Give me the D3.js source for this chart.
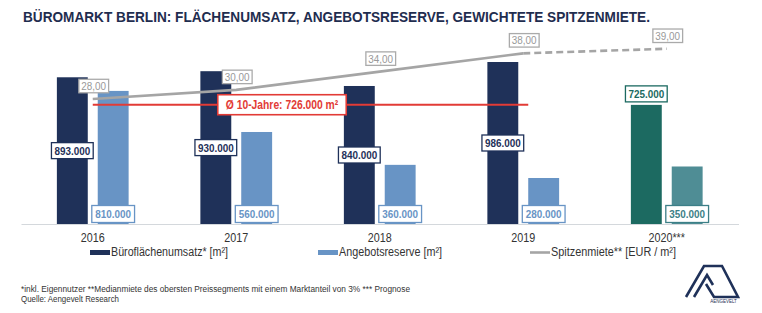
<!DOCTYPE html>
<html><head><meta charset="utf-8">
<script src="https://cdn.jsdelivr.net/npm/d3@7"></script>
<style>
html,body{margin:0;padding:0;background:#fff;}
svg{display:block;font-family:"Liberation Sans",Arial,sans-serif;}
</style></head>
<body>
<svg id="c" width="762" height="313"></svg>
<script>
const years = ["2016","2017","2018","2019","2020***"];
const umsatz = [893000, 930000, 840000, 986000, 725000];
const reserve = [810000, 560000, 360000, 280000, 350000];
const miete = [28, 30, 34, 38, 39];
const avgValue = 726000;
const avgLabel = "Ø 10-Jahre: 726.000 m²";
const titleText = "BÜROMARKT BERLIN: FLÄCHENUMSATZ, ANGEBOTSRESERVE, GEWICHTETE SPITZENMIETE.";
const legendLabels = ["Büroflächenumsatz* [m²]", "Angebotsreserve [m²]", "Spitzenmiete** [EUR / m²]"];
const footLines = ["*inkl. Eigennutzer **Medianmiete des obersten Preissegments mit einem Marktanteil von 3% *** Prognose", "Quelle: Aengevelt Research"];

const fmt = v => d3.format(",")(v).replace(/,/g, ".");
const fmtRent = v => d3.format(".2f")(v).replace(".", ",");

const C = {navy:"#1f3159", light:"#6894c5", teal:"#1c6a61", tealLight:"#4f8d95", grey:"#a5a5a5", red:"#e23b36"};

const svg = d3.select("#c");
const x = d3.scaleBand().domain(years).range([21, 738.5]).paddingInner(0.5).paddingOuter(0.25);
const sub = d3.scaleBand().domain(["u","r"]).range([0, x.bandwidth()]).paddingInner(0.244);
const y = d3.scaleLinear().domain([0, 1000000]).range([224, 59.7]);
const yr = d3.scaleLinear().domain([0, 40]).range([227, 44.2]);
const cx = d => x(d) + x.bandwidth()/2;

function condense(sel, f){
  sel.each(function(){
    const w = this.getComputedTextLength();
    this.setAttribute("textLength", w*f);
    this.setAttribute("lengthAdjust","spacingAndGlyphs");
  });
}
function fitTo(sel, w){ sel.attr("textLength", w).attr("lengthAdjust","spacingAndGlyphs"); }

// title
svg.append("text").attr("x",23).attr("y",21.5).attr("font-size",15).attr("font-weight","bold")
  .attr("fill","#1f2d4f").text(titleText).call(fitTo, 627);

// axis
const ax = svg.append("g").attr("transform","translate(0,224)")
  .call(d3.axisBottom(x).tickSize(0).tickPadding(9).tickSizeOuter(0));
ax.select(".domain").attr("stroke","#d4d8dc").attr("stroke-width",1.2);
ax.selectAll("text").attr("font-size",12.5).attr("fill","#333").attr("font-family","Liberation Sans, Arial, sans-serif")
  .attr("dy","0.71em").call(condense, 0.86);

// bars
const isLast = i => i === years.length-1;
svg.append("g").selectAll("rect").data(umsatz).join("rect")
  .attr("x",(d,i)=>x(years[i])+sub("u")).attr("width",sub.bandwidth())
  .attr("y",d=>y(d)).attr("height",d=>y(0)-y(d))
  .attr("fill",(d,i)=>isLast(i)?C.teal:C.navy);
svg.append("g").selectAll("rect").data(reserve).join("rect")
  .attr("x",(d,i)=>x(years[i])+sub("r")).attr("width",sub.bandwidth())
  .attr("y",d=>y(d)).attr("height",d=>y(0)-y(d))
  .attr("fill",(d,i)=>isLast(i)?C.tealLight:C.light);

// labeled box helper
function boxLabel(g, cxp, cyp, txt, o){
  const gg = g.append("g");
  const r = gg.append("rect").attr("fill","#fff").attr("stroke",o.stroke).attr("stroke-width",o.sw||1.3);
  const t = gg.append("text").attr("x",cxp).attr("y",cyp).attr("text-anchor","middle").attr("dy","0.36em")
    .attr("font-size",o.fs).attr("font-weight",o.fw||"normal").attr("fill",o.color).text(txt);
  t.call(condense, o.f||0.86);
  const w = +t.attr("textLength");
  r.attr("x",cxp-w/2-o.px).attr("width",w+2*o.px).attr("y",cyp-o.h/2).attr("height",o.h);
}

// average line
svg.append("line").attr("x1",cx(years[0])).attr("x2",cx(years[3])+5)
  .attr("y1",y(avgValue)).attr("y2",y(avgValue)).attr("stroke",C.red).attr("stroke-width",2);
const lg = svg.append("g");
boxLabel(lg, (cx(years[1])+cx(years[2]))/2-26, y(avgValue), avgLabel, {stroke:C.red,color:C.red,fs:12,fw:"bold",px:8,h:20,sw:1.6,f:0.86});

// rent line
const pts = miete.map((v,i)=>[cx(years[i]), yr(v)]);
svg.append("path").attr("d", d3.line()(pts.slice(0,4))).attr("fill","none").attr("stroke",C.grey).attr("stroke-width",2.6);
svg.append("path").attr("d", d3.line()(pts.slice(3))).attr("fill","none").attr("stroke",C.grey).attr("stroke-width",2.6).attr("stroke-dasharray","7,4");

// value labels
const vg = svg.append("g");
umsatz.forEach((v,i)=>{
  const xc = x(years[i])+sub("u")+sub.bandwidth()/2;
  if(isLast(i)) boxLabel(vg, xc, y(v)-11, fmt(v), {stroke:C.teal,color:C.teal,fs:11.5,fw:"bold",px:3,h:16});
  else boxLabel(vg, xc, (y(v)+y(0))/2, fmt(v), {stroke:C.navy,color:C.navy,fs:11.5,fw:"bold",px:3,h:16});
});
reserve.forEach((v,i)=>{
  const xc = x(years[i])+sub("r")+sub.bandwidth()/2;
  const col = isLast(i)? "#3c7f87" : C.light;
  boxLabel(vg, xc, 214, fmt(v), {stroke:col,color:col,fs:11.5,fw:"bold",px:3.5,h:17});
});
miete.forEach((v,i)=>{
  boxLabel(vg, pts[i][0]+1, pts[i][1]-13, fmtRent(v), {stroke:"#aaa",color:"#999",fs:11.5,px:2.5,h:13.5,f:0.86});
});

// legend
const leg = svg.append("g");
const legX = [90, 318, 530];
const legW = [117, 103, 125];
legendLabels.forEach((t,i)=>{
  if(i<2) leg.append("rect").attr("x",legX[i]).attr("y",250).attr("width",20).attr("height",5).attr("fill",i===0?C.navy:C.light);
  else leg.append("line").attr("x1",legX[i]).attr("x2",legX[i]+20).attr("y1",252.5).attr("y2",252.5).attr("stroke",C.grey).attr("stroke-width",2.6);
  leg.append("text").attr("x",legX[i]+21).attr("y",256).attr("font-size",12).attr("fill","#333").text(t).call(fitTo, legW[i]);
});

// footnote
svg.append("text").attr("x",21).attr("y",292).attr("font-size",8.5).attr("fill","#333").text(footLines[0]).call(fitTo, 389);
svg.append("text").attr("x",21).attr("y",302).attr("font-size",8.5).attr("fill","#333").text(footLines[1]).call(fitTo, 98);

// logo
const logo = svg.append("g").attr("fill","none").attr("stroke","#1f3159").attr("stroke-width",2.6).attr("stroke-linejoin","miter");
logo.append("path").attr("d","M686,297 L704,266 L722,266 L738,297 L714,297 L706,284");
logo.append("path").attr("d","M694,297 L707,275 L713,285");
svg.append("text").attr("x",723.5).attr("y",303).attr("text-anchor","middle").attr("font-size",4.5).attr("fill","#1f3159").text("AENGEVELT");
</script>
</body></html>
